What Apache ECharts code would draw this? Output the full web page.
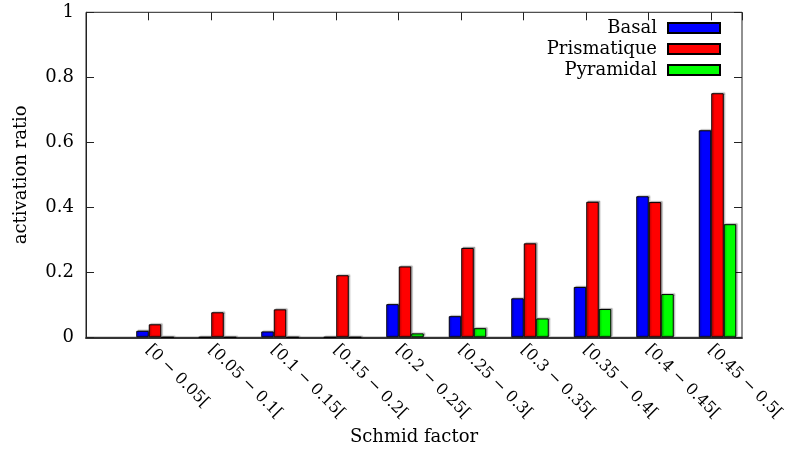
<!DOCTYPE html>
<html>
<head>
<meta charset="utf-8">
<script src="https://cdn.jsdelivr.net/npm/echarts@6/dist/echarts.min.js"></script>
<style>
html,body{margin:0;padding:0;background:#fff;}
#chart{width:795px;height:450px;}
</style>
</head>
<body>
<div id="chart"></div>
<script>
const categories = ['[0 − 0.05[', '[0.05 − 0.1[', '[0.1 − 0.15[', '[0.15 − 0.2[', '[0.2 − 0.25[',
  '[0.25 − 0.3[', '[0.3 − 0.35[', '[0.35 − 0.4[', '[0.4 − 0.45[', '[0.45 − 0.5['];
const basal = [0.020, 0, 0.018, 0, 0.102, 0.065, 0.120, 0.155, 0.434, 0.637];
const prismatique = [0.040, 0.077, 0.086, 0.191, 0.218, 0.275, 0.289, 0.417, 0.416, 0.751];
const pyramidal = [0, 0, 0, 0, 0.012, 0.028, 0.058, 0.087, 0.133, 0.348];
const seriesNames = ['Basal', 'Prismatique', 'Pyramidal'];
const yTicks = [0, 0.2, 0.4, 0.6, 0.8, 1];

const FONT = 'DejaVu Serif';
const FS = 18;
const chart = echarts.init(document.getElementById('chart'));
const gTop = 12.3, gBottom = 450 - 337.3;
const barStyle = (c) => ({color: c, borderColor: '#000', borderWidth: 1,
  shadowColor: 'rgba(0,0,0,0.25)', shadowOffsetX: 1.5, shadowOffsetY: -1, shadowBlur: 1});

chart.setOption({
  animation: false,
  backgroundColor: '#fff',
  textStyle: {fontFamily: FONT},
  grid: [
    {left: 123.75, right: 46.25, top: gTop, bottom: gBottom, containLabel: false, outerBoundsMode: 'none'},
    {left: 86, right: 53, top: gTop, bottom: gBottom, containLabel: false, outerBoundsMode: 'none',
     show: true, borderColor: '#222', borderWidth: 1, backgroundColor: 'transparent'}
  ],
  legend: {
    data: seriesNames, orient: 'vertical', right: 74, top: 19, padding: 0, align: 'right',
    icon: 'rect', itemWidth: 52, itemHeight: 10, itemGap: 3,
    textStyle: {fontFamily: FONT, fontSize: FS, color: '#000', padding: [0, 6, 0, 0]}
  },
  xAxis: [
    {type: 'category', gridIndex: 0, data: categories, show: false},
    {type: 'value', gridIndex: 1, min: -1, max: 9.5, interval: 1, position: 'bottom',
     axisLine: {show: true, onZero: false, lineStyle: {color: '#333', width: 2}},
     axisTick: {show: false}, splitLine: {show: false},
     axisLabel: {rotate: -45, margin: 10, fontFamily: FONT, fontSize: 16, color: '#000',
       formatter: v => (Number.isInteger(v) && v >= 0 && v < categories.length) ? categories[v] : ''},
     name: 'Schmid factor', nameLocation: 'middle', nameGap: 86,
     nameTextStyle: {fontFamily: FONT, fontSize: FS, color: '#000'}},
    {type: 'value', gridIndex: 1, min: -1, max: 9.5, interval: 1, position: 'top',
     axisLine: {show: false, onZero: false}, axisLabel: {show: false}, splitLine: {show: false},
     axisTick: {show: true, inside: true, length: 8, lineStyle: {color: '#222'}}}
  ],
  yAxis: [
    {type: 'value', gridIndex: 0, min: 0, max: 1, show: false},
    {type: 'value', gridIndex: 1, min: 0, max: 1, interval: 0.2, position: 'left',
     axisLine: {show: true, onZero: false, lineStyle: {color: '#222', width: 1}},
     axisTick: {show: true, inside: true, length: 8, lineStyle: {color: '#222'}},
     splitLine: {show: false},
     axisLabel: {margin: 12, fontFamily: FONT, fontSize: FS, color: '#000',
       formatter: v => String(yTicks.find(t => Math.abs(t - v) < 1e-9) ?? v)},
     name: 'activation ratio', nameLocation: 'middle', nameGap: 56, nameRotate: 90,
     nameTextStyle: {fontFamily: FONT, fontSize: FS, color: '#000'}},
    {type: 'value', gridIndex: 1, min: 0, max: 1, interval: 0.2, position: 'right',
     axisLine: {show: false, onZero: false}, axisLabel: {show: false}, splitLine: {show: false},
     axisTick: {show: true, inside: true, length: 8, lineStyle: {color: '#222'}}}
  ],
  series: [
    {name: seriesNames[0], type: 'bar', xAxisIndex: 0, yAxisIndex: 0, data: basal,
     barGap: '0%', barCategoryGap: '40%', itemStyle: barStyle('#0000ff')},
    {name: seriesNames[1], type: 'bar', xAxisIndex: 0, yAxisIndex: 0, data: prismatique,
     barGap: '0%', barCategoryGap: '40%', itemStyle: barStyle('#ff0000')},
    {name: seriesNames[2], type: 'bar', xAxisIndex: 0, yAxisIndex: 0, data: pyramidal,
     barGap: '0%', barCategoryGap: '40%', itemStyle: barStyle('#00ff00')}
  ]
});
</script>
</body>
</html>
